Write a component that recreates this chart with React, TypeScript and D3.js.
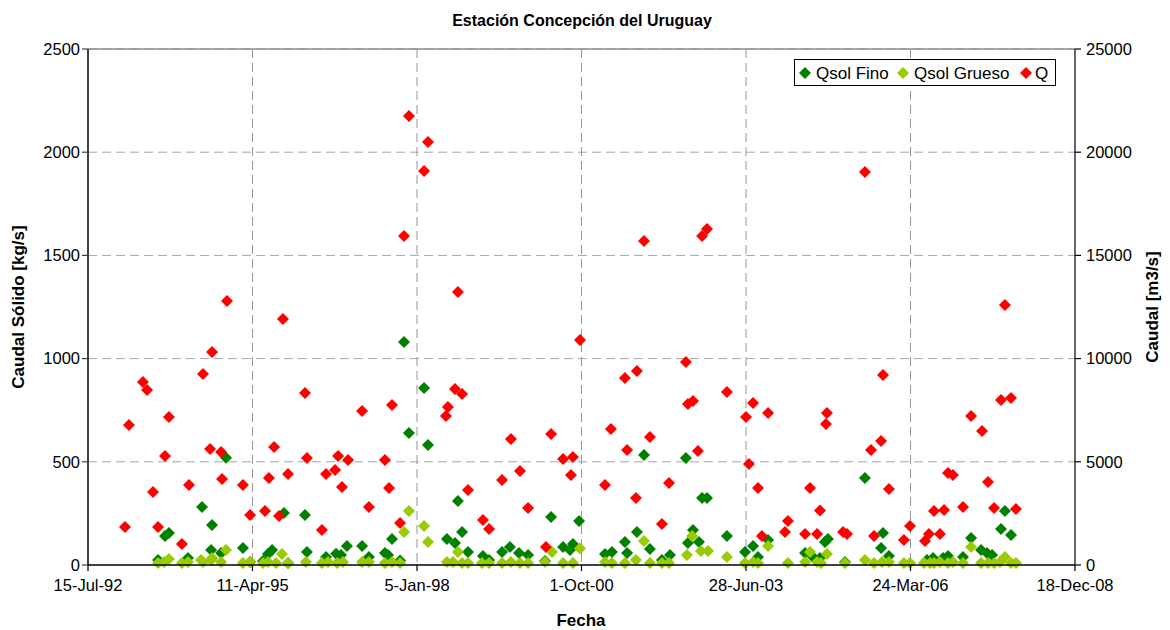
import React from "react";
import * as d3 from "d3";

// Excel date serials (days) of each sample, and values
const qDates = [
  34025, 34049, 34134, 34159, 34195, 34226, 34268, 34292, 34371, 34414,
  34499, 34542, 34554, 34609, 34615, 34645, 34742, 34785, 34876, 34900,
  34931, 34961, 34985, 35016, 35119, 35131, 35222, 35247, 35302, 35320,
  35344, 35381, 35466, 35508, 35605, 35630, 35648, 35697, 35721, 35751,
  35843, 35867, 35976, 35988, 36031, 36049, 36074, 36110, 36201, 36238,
  36317, 36371, 36426, 36475, 36584, 36615, 36688, 36736, 36748, 36791,
  36943, 36979, 37064, 37077, 37131, 37137, 37180, 37216, 37289, 37332,
  37435, 37447, 37478, 37508, 37533, 37563, 37684, 37800, 37818, 37843,
  37873, 37897, 37934, 38037, 38055, 38159, 38189, 38232, 38250, 38286,
  38292, 38390, 38414, 38523, 38560, 38578, 38621, 38633, 38669, 38760,
  38797, 38888, 38912, 38943, 38979, 39004, 39028, 39058, 39119, 39168,
  39235, 39271, 39308, 39350, 39374, 39411, 39441,
];
const qValues = [
  1840, 6780, 8870, 8480, 3540, 1840, 5280, 7170, 1020, 3880,
  9250, 5620, 10320, 5470, 4170, 12790, 3880, 2420, 2620, 4220,
  5720, 2380, 11920, 4410, 8330, 5180, 1700, 4410, 4600, 5280,
  3780, 5090, 7460, 2810, 5090, 3730, 7750, 2030, 15940, 21750,
  19090, 20490, 7220, 7660, 8530, 13230, 8280, 3630, 2180, 1740,
  4120, 6100, 4550, 2760, 870, 6350, 5140, 4360, 5230, 10900,
  3880, 6590, 9060, 5570, 3250, 9400, 15700, 6200, 1990, 3970,
  9840, 7800, 7950, 5520, 15940, 16280, 8380, 7170, 4890, 7850,
  3730, 1400, 7360, 1600, 2130, 1500, 3730, 1500, 2640, 6830,
  7360, 1600, 1500, 19040, 5570, 1400, 6010, 9200, 3680, 1210,
  1890, 1160, 1500, 2620, 1500, 2660, 4460, 4360, 2810, 7220,
  6490, 4020, 2760, 8000, 12600, 8090, 2710,
];

const finoDates = [
  34226, 34268, 34292, 34408, 34493, 34548, 34554, 34609, 34639, 34742,
  34785, 34864, 34894, 34919, 34991, 35016, 35119, 35131, 35247, 35308,
  35338, 35374, 35466, 35508, 35605, 35624, 35648, 35697, 35721, 35751,
  35843, 35867, 35982, 36031, 36049, 36074, 36110, 36201, 36238, 36317,
  36365, 36420, 36475, 36578, 36615, 36688, 36730, 36748, 36785, 36943,
  36985, 37064, 37077, 37137, 37180, 37216, 37289, 37338, 37435, 37447,
  37478, 37514, 37533, 37563, 37684, 37794, 37843, 37873, 37934, 38159,
  38207, 38250, 38280, 38298, 38402, 38523, 38621, 38633, 38669, 38900,
  38937, 38998, 39028, 39119, 39168, 39229, 39265, 39296, 39350, 39374,
  39411,
];
const finoValues = [
  24, 140, 155, 34, 281, 73, 194, 58, 520, 82,
  15, 19, 53, 73, 252, 10, 242, 63, 39, 55,
  48, 92, 92, 39, 58, 48, 126, 22, 1080, 640,
  858, 581, 126, 107, 310, 160, 63, 44, 24, 63,
  87, 58, 48, 19, 233, 87, 73, 102, 213, 53,
  63, 111, 58, 160, 533, 78, 24, 48, 518, 107,
  170, 111, 325, 325, 140, 63, 92, 39, 121, 58,
  39, 34, 111, 126, 15, 421, 82, 155, 44, 24,
  34, 34, 44, 39, 131, 73, 58, 48, 174, 262,
  145,
];

const gruesoDates = [
  34226, 34262, 34292, 34371, 34408, 34487, 34499, 34548, 34554, 34609,
  34639, 34742, 34785, 34864, 34894, 34943, 34979, 35016, 35125, 35222,
  35259, 35314, 35350, 35466, 35508, 35605, 35648, 35697, 35721, 35751,
  35843, 35867, 35982, 36019, 36049, 36074, 36110, 36195, 36238, 36317,
  36371, 36426, 36475, 36578, 36621, 36688, 36748, 36791, 36943, 36985,
  37064, 37131, 37180, 37216, 37289, 37332, 37441, 37472, 37526, 37569,
  37684, 37794, 37843, 37873, 37934, 38055, 38159, 38189, 38232, 38256,
  38292, 38402, 38523, 38578, 38627, 38669, 38760, 38797, 38882, 38919,
  38943, 38979, 39028, 39058, 39119, 39168, 39229, 39271, 39308, 39344,
  39374, 39411, 39441,
];
const gruesoValues = [
  10, 15, 29, 10, 15, 24, 15, 24, 34, 15,
  73, 10, 15, 10, 15, 10, 53, 10, 15, 10,
  15, 10, 15, 15, 15, 10, 15, 10, 160, 262,
  189, 111, 15, 15, 63, 10, 10, 10, 10, 10,
  15, 10, 10, 15, 63, 10, 10, 80, 15, 10,
  10, 24, 116, 10, 10, 10, 48, 140, 68, 68,
  39, 10, 15, 10, 92, 10, 15, 63, 15, 10,
  53, 10, 24, 10, 15, 15, 10, 10, 10, 10,
  10, 15, 10, 15, 10, 87, 10, 10, 10, 15,
  39, 10, 10,
];

const xTickSerials = [33800, 34800, 35800, 36800, 37800, 38800, 39800];
const leftTicks = [0, 500, 1000, 1500, 2000, 2500];
const rightTicks = [0, 5000, 10000, 15000, 20000, 25000];

const seriesNames = ["Qsol Fino", "Qsol Grueso", "Q"];
const seriesColors = ["#008000", "#99CC00", "#FF0000"];

const W = 1170;
const H = 630;
const M = { left: 88, right: 1075, top: 49, bottom: 565 };
const FONT = "'Liberation Sans', Arial, sans-serif";

const serialToDate = (s: number) => new Date(Date.UTC(1899, 11, 30) + s * 86400000);
const fmt = d3.utcFormat("%-d-%b-%y");

const diamond = (r: number) => `M0,${-r}L${r},0L0,${r}L${-r},0Z`;

export default function App() {
  const x = d3.scaleLinear().domain([33800, 39800]).range([M.left, M.right]);
  const yL = d3.scaleLinear().domain([0, 2500]).range([M.bottom, M.top]);
  const yR = d3.scaleLinear().domain([0, 25000]).range([M.bottom, M.top]);
  const r = 6;

  const pts = (dates: number[], vals: number[], y: d3.ScaleLinear<number, number>) =>
    dates.map((d, i) => ({ cx: x(d), cy: y(vals[i]) }));

  const fino = pts(finoDates, finoValues, yL);
  const grueso = pts(gruesoDates, gruesoValues, yL);
  const q = pts(qDates, qValues, yR);

  const legendItems = [
    { name: seriesNames[0], color: seriesColors[0], mx: 805, tx: 816 },
    { name: seriesNames[1], color: seriesColors[1], mx: 903, tx: 914 },
    { name: seriesNames[2], color: seriesColors[2], mx: 1026, tx: 1035 },
  ];

  return (
    <svg
      width={W}
      height={H}
      style={{ position: "absolute", left: 0, top: 0, display: "block", background: "#fff" }}
      fontFamily={FONT}
    >
      <rect x={0} y={0} width={W} height={H} fill="#fff" />
      {/* grid */}
      {leftTicks.slice(1).map((t) => (
        <line key={"h" + t} x1={M.left} x2={M.right} y1={yL(t)} y2={yL(t)}
          stroke="#a6a6a6" strokeWidth={1} strokeDasharray="9,5" />
      ))}
      {xTickSerials.slice(1, -1).map((t) => (
        <line key={"v" + t} x1={x(t)} x2={x(t)} y1={M.top} y2={M.bottom}
          stroke="#969696" strokeWidth={1} strokeDasharray="9,5" />
      ))}
      <line x1={M.left} x2={M.right} y1={M.top} y2={M.top} stroke="#8c8c8c" strokeWidth={1.5} />

      {/* markers */}
      {fino.map((p, i) => (
        <path key={"f" + i} d={diamond(r)} transform={`translate(${p.cx},${p.cy})`} fill={seriesColors[0]} />
      ))}
      {grueso.map((p, i) => (
        <path key={"g" + i} d={diamond(r)} transform={`translate(${p.cx},${p.cy})`} fill={seriesColors[1]} />
      ))}
      {q.map((p, i) => (
        <path key={"q" + i} d={diamond(r)} transform={`translate(${p.cx},${p.cy})`} fill={seriesColors[2]} />
      ))}

      {/* axes */}
      <line x1={M.left} x2={M.left} y1={M.top} y2={M.bottom} stroke="#404040" strokeWidth={2} />
      <line x1={M.right} x2={M.right} y1={M.top} y2={M.bottom} stroke="#000" strokeWidth={1.2} />
      <line x1={M.left} x2={M.right} y1={M.bottom} y2={M.bottom} stroke="#000" strokeWidth={1.5} />
      {leftTicks.map((t) => (
        <g key={"lt" + t}>
          <line x1={M.left - 6} x2={M.left} y1={yL(t)} y2={yL(t)} stroke="#404040" strokeWidth={1.2} />
          <text x={80} y={yL(t)} dy="0.35em" textAnchor="end" fontSize={16.5} fill="#000">{t}</text>
        </g>
      ))}
      {rightTicks.map((t) => (
        <g key={"rt" + t}>
          <line x1={M.right} x2={M.right + 6} y1={yR(t)} y2={yR(t)} stroke="#000" strokeWidth={1.2} />
          <text x={1086} y={yR(t)} dy="0.35em" textAnchor="start" fontSize={16.5} fill="#000">{t}</text>
        </g>
      ))}
      {xTickSerials.map((t) => (
        <g key={"xt" + t}>
          <line x1={x(t)} x2={x(t)} y1={M.bottom} y2={M.bottom + 6} stroke="#000" strokeWidth={1.2} />
          <text x={x(t)} y={591} textAnchor="middle" fontSize={16.5} fill="#000">{fmt(serialToDate(t))}</text>
        </g>
      ))}

      {/* titles */}
      <text x={582} y={26} textAnchor="middle" fontSize={16} fontWeight="bold">Estación Concepción del Uruguay</text>
      <text x={581} y={626} textAnchor="middle" fontSize={17} fontWeight="bold">Fecha</text>
      <text transform={`translate(24,${(M.top + M.bottom) / 2}) rotate(-90)`} textAnchor="middle" fontSize={17} fontWeight="bold">Caudal Sólido [kg/s]</text>
      <text transform={`translate(1158,${(M.top + M.bottom) / 2}) rotate(-90)`} textAnchor="middle" fontSize={17} fontWeight="bold">Caudal [m3/s]</text>

      {/* legend */}
      <rect x={794.5} y={59.5} width={261} height={26} fill="#fff" stroke="#000" strokeWidth={1} />
      {legendItems.map((it) => (
        <g key={it.name}>
          <path d={diamond(r)} transform={`translate(${it.mx},73)`} fill={it.color} />
          <text x={it.tx} y={79} fontSize={17} fill="#000">{it.name}</text>
        </g>
      ))}
    </svg>
  );
}
